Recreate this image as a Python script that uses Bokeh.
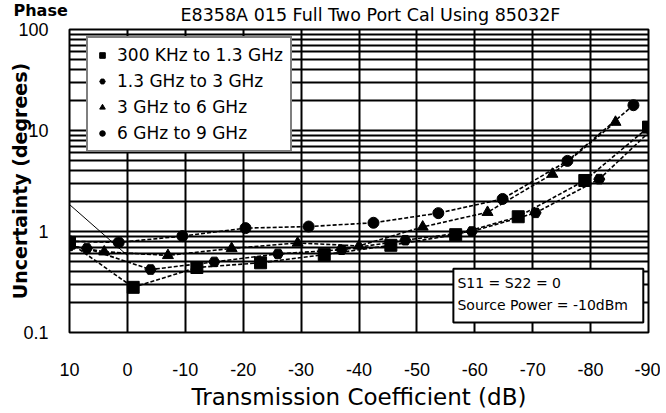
import numpy as np
from bokeh.plotting import figure
from bokeh.models import (Range1d, FixedTicker, Label, BoxAnnotation, Legend,
                          LegendItem, CustomJSTickFormatter, Title)
from bokeh.embed import file_html
from bokeh.resources import INLINE

# ---- data ----
x_ticks = [10, 0, -10, -20, -30, -40, -50, -60, -70, -80, -90]
y_major = [0.1, 1, 10, 100]
y_minor = [m * 10.0 ** e for e in (-1, 0, 1) for m in range(2, 10)]

sq_x = [10, -1, -12, -23, -34, -45.5, -56.7, -67.5, -79, -90]
sq_y = [0.78, 0.28, 0.44, 0.49, 0.59, 0.73, 0.93, 1.40, 3.2, 10.8]

di_x = [10, 7, -4, -15, -26, -37, -48, -59.5, -70.5, -81.5, -90]
di_y = [0.72, 0.68, 0.42, 0.50, 0.60, 0.66, 0.82, 1.0, 1.53, 3.3, 9.5]

tr_x = [10, 4, -7, -18, -29.4, -40, -51, -62.2, -73.4, -84.3]
tr_y = [0.72, 0.63, 0.58, 0.68, 0.77, 0.72, 1.11, 1.55, 3.7, 12.1]

ci_x = [10, 1.5, -9.5, -20.4, -31.3, -42.5, -53.7, -64.8, -76, -87.4]
ci_y = [0.80, 0.78, 0.90, 1.08, 1.12, 1.22, 1.52, 2.1, 5.0, 17.8]

thin_x = [10, 0]
thin_y = [1.85, 0.58]

labels = ["300 KHz to 1.3 GHz", "1.3 GHz to 3 GHz", "3 GHz to 6 GHz", "6 GHz to 9 GHz"]

W, H = 660, 412
FONT = "DejaVu Sans"

p = figure(width=W, height=H, x_range=Range1d(10, -90),
           y_range=Range1d(0.1, 100), y_axis_type="log",
           output_backend="svg", toolbar_location=None,
           min_border_left=69, min_border_right=W - 648, min_border_top=29,
           min_border_bottom=H - 333)

# main title
p.title.text = "E8358A 015 Full Two Port Cal Using 85032F"
p.title.align = "left"
p.title.offset = 111
p.title.standoff = 6
p.title.vertical_align = "top"
p.title.text_font = FONT
p.title.text_font_size = "17.5px"
p.title.text_font_style = "normal"
p.title.text_color = "black"

# "Phase" heading at top-left, sharing the title row
p.add_layout(Title(text="Phase", align="left", offset=-56, standoff=-58,
                   vertical_align="top",
                   text_font=FONT, text_font_size="16px", text_font_style="bold",
                   text_color="black"), "above")

p.background_fill_color = "white"
p.border_fill_color = "white"
p.outline_line_color = "black"
p.outline_line_width = 2
p.outline_line_alpha = 1

fmt = CustomJSTickFormatter(code="return tick.toString();")
p.xaxis.ticker = FixedTicker(ticks=x_ticks)
p.yaxis.ticker = FixedTicker(ticks=y_major, minor_ticks=y_minor)
for ax in (p.xaxis[0], p.yaxis[0]):
    ax.formatter = fmt
    ax.axis_line_color = None
    ax.major_tick_line_color = None
    ax.minor_tick_line_color = None
    ax.major_label_text_font = "Liberation Sans"
    ax.major_label_text_font_size = "18px"
    ax.major_label_text_color = "black"
    ax.axis_label_text_font = FONT
    ax.axis_label_text_color = "black"
p.xaxis.major_label_standoff = 24
p.yaxis.major_label_standoff = 15

p.xaxis.axis_label = "Transmission Coefficient (dB)"
p.xaxis.axis_label_text_font_size = "23px"
p.xaxis.axis_label_text_font_style = "normal"
p.xaxis.axis_label_standoff = 5

p.yaxis.axis_label = "Uncertainty (degrees)"
p.yaxis.axis_label_text_font_size = "19px"
p.yaxis.axis_label_text_font_style = "bold"
p.yaxis.axis_label_standoff = -16

p.xgrid.ticker = FixedTicker(ticks=x_ticks)
p.xgrid.grid_line_color = "black"
p.xgrid.grid_line_width = 2
p.xgrid.grid_line_alpha = 1
p.ygrid.ticker = FixedTicker(ticks=y_major, minor_ticks=y_minor)
p.ygrid.grid_line_color = "black"
p.ygrid.grid_line_width = 2
p.ygrid.grid_line_alpha = 1
p.ygrid.minor_grid_line_color = "black"
p.ygrid.minor_grid_line_width = 2
p.ygrid.minor_grid_line_alpha = 1

# series lines
p.line(thin_x, thin_y, line_color="black", line_width=1)
for xs, ys in ((sq_x, sq_y), (di_x, di_y), (tr_x, tr_y), (ci_x, ci_y)):
    p.line(xs, ys, line_color="black", line_width=1.6, line_dash="4 2")

r_sq = p.scatter(sq_x, sq_y, marker="square", size=12, color="black")
r_di = p.scatter(di_x[:-1], di_y[:-1], marker="hex", size=11, color="black")
r_tr = p.scatter(tr_x, tr_y, marker="triangle", size=11, color="black")
r_ci = p.scatter(ci_x, ci_y, marker="circle", size=11, color="black")

legend = Legend(items=[LegendItem(label=labels[0], renderers=[r_sq]),
                       LegendItem(label=labels[1], renderers=[r_di]),
                       LegendItem(label=labels[2], renderers=[r_tr]),
                       LegendItem(label=labels[3], renderers=[r_ci])],
                location=(17, 180), margin=0, padding=7, spacing=6,
                glyph_width=14, glyph_height=20, label_height=20,
                label_standoff=8, label_text_font=FONT,
                label_text_font_size="17px", label_text_color="black",
                border_line_color="black", border_line_width=2,
                background_fill_color="white", background_fill_alpha=1)
p.add_layout(legend)

# note box
box = BoxAnnotation(left=-56.3, right=-89.1, bottom=0.1255, top=0.428,
                    fill_color="white", fill_alpha=1, line_color="black",
                    line_width=2, line_alpha=1)
p.add_layout(box)
p.add_layout(Label(x=-57.0, y=0.311, text="S11 = S22 = 0", text_font=FONT,
                   text_font_size="14px", text_baseline="middle", text_color="black"))
p.add_layout(Label(x=-57.0, y=0.189, text="Source Power = -10dBm", text_font=FONT,
                   text_font_size="14px", text_baseline="middle", text_color="black"))

open("out.html", "w").write(file_html(p, INLINE))
